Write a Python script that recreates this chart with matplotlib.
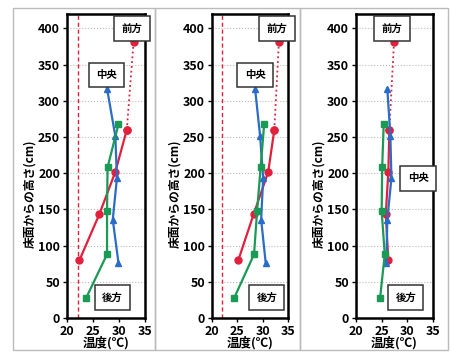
import matplotlib
matplotlib.use("Agg")
import matplotlib.pyplot as plt
from matplotlib.patches import Rectangle

plt.rcParams['font.family'] = ['Noto Sans CJK JP', 'DejaVu Sans']

# 高さ (cm)
h_front = [80, 143, 202, 260, 381]
h_center = [317, 251, 193, 136, 76]
h_rear = [28, 88, 148, 208, 268]

# 温度 (℃) 各パネル
t_front = [[22.4, 26.2, 29.3, 31.5, 32.8],
           [25.2, 28.2, 31.1, 32.3, 33.2],
           [26.3, 25.8, 26.3, 26.5, 27.4]]
t_center = [[27.7, 29.3, 29.6, 28.8, 29.9],
            [28.5, 29.5, 30.1, 29.7, 30.6],
            [26.1, 26.7, 26.9, 26.1, 25.9]]
t_rear = [[23.7, 27.7, 27.7, 27.8, 29.9],
          [24.4, 28.3, 28.9, 29.6, 30.3],
          [24.7, 25.6, 25.0, 25.1, 25.4]]
t_ref = [22.1, 22.0, 20.0]

# ラベル位置 (x, y)
pos_front = [(32.5, 400), (32.8, 400), (27.0, 400)]
pos_center = [(27.6, 336), (28.5, 336), (32.1, 193)]
pos_rear = [(28.7, 28), (30.8, 28), (29.7, 28)]

RED = '#e0203c'
BLUE = '#2a6cc8'
GREEN = '#1a9a55'

fig = plt.figure(figsize=(4.51, 3.56), dpi=100)

lefts = [67, 212, 356]
widths = [78, 76, 77]
frames = [(13, 155), (155, 300), (300, 448)]

for fx0, fx1 in frames:
    fig.patches.append(Rectangle((fx0 / 451, 1 - 350 / 356), (fx1 - fx0) / 451, 342 / 356,
                                 transform=fig.transFigure, fill=False,
                                 edgecolor='#bbbbbb', lw=1.0))

for i in range(3):
    ax = fig.add_axes([lefts[i] / 451, 1 - 318 / 356, widths[i] / 451, 304 / 356])
    ax.set_xlim(20, 35)
    ax.set_ylim(0, 420)
    ax.set_xticks([20, 25, 30, 35])
    ax.set_yticks(range(0, 401, 50))
    ax.grid(axis='y', color='#bbbbbb', ls=':', lw=0.8)
    for s in ax.spines.values():
        s.set_linewidth(1.8)
    ax.tick_params(labelsize=9, length=3, width=1, pad=2)
    for lab in ax.get_xticklabels() + ax.get_yticklabels():
        lab.set_fontweight('bold')

    ax.axvline(t_ref[i], color=RED, ls=(0, (3, 2)), lw=1.0)

    ax.plot(t_front[i][:4], h_front[:4], color=RED, lw=1.6, marker='o', ms=5)
    ax.plot(t_front[i][3:], h_front[3:], color=RED, lw=1.3, ls=':', marker='o', ms=5)
    ax.plot(t_center[i], h_center, color=BLUE, lw=1.6, marker='^', ms=5)
    ax.plot(t_rear[i], h_rear, color=GREEN, lw=1.6, marker='s', ms=5)

    box = dict(boxstyle='square,pad=0.7', fc='white', ec='#333333', lw=1.1)
    for txt, (x, y) in [('前方', pos_front[i]), ('中央', pos_center[i]), ('後方', pos_rear[i])]:
        ax.text(x, y, txt, ha='center', va='center', fontsize=7.5, fontweight='bold',
                bbox=box, clip_on=False, zorder=5)

    ax.set_ylabel('床面からの高さ(cm)', fontsize=8.5, fontweight='bold')
    ax.yaxis.set_label_coords(-0.4, 0.41)
    ax.set_xlabel('温度(℃)', fontsize=9, fontweight='bold', labelpad=-1)

fig.savefig('out.png', dpi=100)
